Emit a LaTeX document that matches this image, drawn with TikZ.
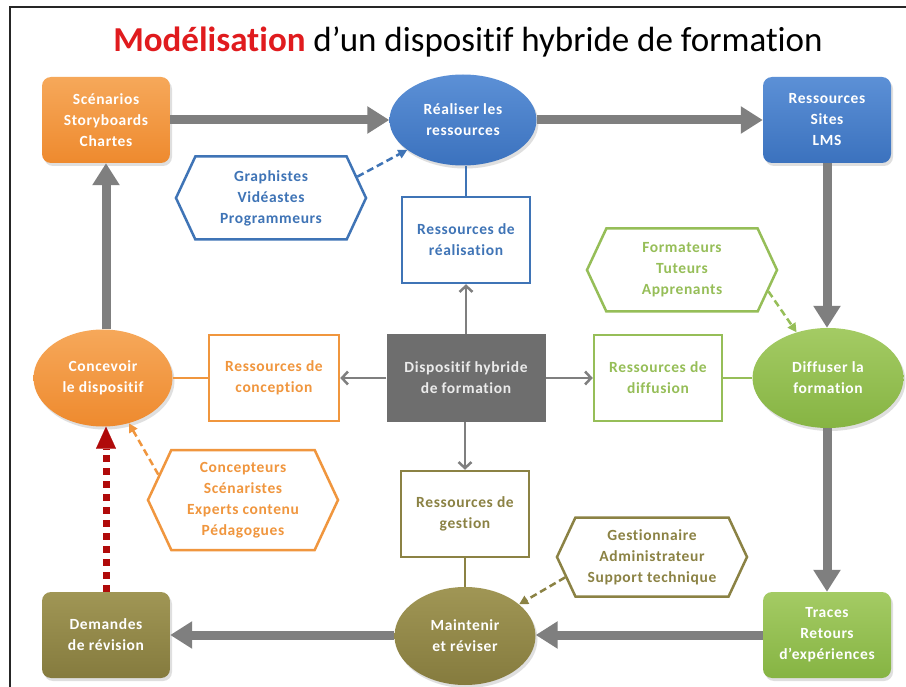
\documentclass[tikz,border=0pt]{standalone}
\usepackage{fontspec}
\setmainfont{Carlito}[Ligatures=NoCommon]
\usetikzlibrary{arrows.meta,shapes.geometric,shapes.symbols,calc,shadows}
\definecolor{orgF}{HTML}{EE8A2E}
\definecolor{orgL}{HTML}{F6A85A}
\definecolor{orgT}{HTML}{F0963E}
\definecolor{bluF}{HTML}{3B72BE}
\definecolor{bluL}{HTML}{5C90D6}
\definecolor{bluT}{HTML}{3F74B6}
\definecolor{grnF}{HTML}{86B443}
\definecolor{grnL}{HTML}{A4CB64}
\definecolor{grnT}{HTML}{96BE58}
\definecolor{olvF}{HTML}{857B3E}
\definecolor{olvL}{HTML}{A09655}
\definecolor{olvT}{HTML}{8B8244}
\definecolor{arrG}{HTML}{7F7F7F}
\definecolor{dispG}{HTML}{6E6E6E}
\definecolor{dotR}{HTML}{B00A0A}
\definecolor{titR}{HTML}{E01B1E}
\begin{document}
\begin{tikzpicture}[x=1pt,y=-1pt,
  lbl/.style={align=center, font=\bfseries\fontsize{15.5}{21}\selectfont\addfontfeatures{LetterSpace=4}},
  shd/.style={drop shadow={opacity=0.25, shadow xshift=2pt, shadow yshift=-3pt}},
  fbox/.style={lbl, rounded corners=9pt, minimum width=128pt, minimum height=86pt, text=white, shd},
  obox/.style={lbl, draw, line width=2.5pt, fill=white, minimum width=128pt, minimum height=86pt},
  ell/.style={lbl, ellipse, inner sep=0pt, text=white, shd},
  hexa/.style={lbl, signal, signal to=east and west, signal pointer angle=130, draw, line width=2.5pt, fill=white, inner sep=0pt, minimum width=190pt, minimum height=83pt},
  bigarr/.style={arrG, line width=9pt, -{Triangle[length=22pt,width=26pt]}},
  thinarr/.style={arrG, line width=2.5pt, -{Straight Barb[length=6pt,width=13pt,line width=2.5pt]}},
  link/.style={line width=2.5pt},
  dsh/.style={line width=2.5pt, dash pattern=on 7pt off 4pt, -{Triangle[length=9pt,width=9pt]}}
]
\useasboundingbox (0,0) rectangle (906,687);
\fill[white] (0,0) rectangle (906,687);
\draw[line width=1.5pt, black!85] (10,687) -- (10,7) -- (906,7);

\node (title) at (468,42) {\fontsize{35}{40}\selectfont\textcolor{titR}{\bfseries Modélisation} d’un dispositif hybride de formation};

% filled boxes
\node[fbox, top color=orgL, bottom color=orgF] (scen) at (106,120) {Scénarios\\Storyboards\\Chartes};
\node[fbox, top color=bluL, bottom color=bluF] (res) at (827,120) {Ressources\\Sites\\LMS};
\node[fbox, top color=olvL, bottom color=olvF] (dem) at (106,635) {Demandes\\de révision};
\node[fbox, top color=grnL, bottom color=grnF] (tra) at (827,635) {Traces\\Retours\\d’expériences};

% ellipses
\node[ell, top color=bluL, bottom color=bluF, minimum width=147pt, minimum height=91pt] (rea) at (463,120) {Réaliser les\\ressources};
\node[ell, top color=orgL, bottom color=orgF, minimum width=139pt, minimum height=97pt] (con) at (103,378) {Concevoir\\le dispositif};
\node[ell, top color=grnL, bottom color=grnF, minimum width=151pt, minimum height=100pt] (dif) at (828,378) {Diffuser la\\formation};
\node[ell, top color=olvL, bottom color=olvF, minimum width=141pt, minimum height=98pt] (mai) at (465,636) {Maintenir\\et réviser};

% central
\node[lbl, fill=dispG, text=white!92!black, minimum width=159pt, minimum height=87pt] (disp) at (466,378) {Dispositif hybride\\de formation};

% outline boxes
\node[obox, draw=bluT, text=bluT] (rr) at (466,240) {Ressources de\\réalisation};
\node[obox, draw=orgT, text=orgT, minimum width=130pt] (rc) at (274,378) {Ressources de\\conception};
\node[obox, draw=grnT, text=grnT] (rd) at (658,378) {Ressources de\\diffusion};
\node[obox, draw=olvT, text=olvT] (rg) at (465,514) {Ressources de\\gestion};

% hexagons
\node[hexa, draw=bluT, text=bluT] (gra) at (271,198) {Graphistes\\Vidéastes\\Programmeurs};
\node[hexa, draw=grnT, text=grnT] (for) at (682,270) {Formateurs\\Tuteurs\\Apprenants};
\node[hexa, draw=orgT, text=orgT, minimum height=100pt] (cpt) at (243,500) {Concepteurs\\Scénaristes\\Experts contenu\\Pédagogues};
\node[hexa, draw=olvT, text=olvT, minimum height=79pt] (ges) at (652,557) {Gestionnaire\\Administrateur\\Support technique};

% thick cycle
\draw[bigarr] (scen.east) -- (rea.west);
\draw[bigarr] (rea.east) -- (res.west);
\draw[bigarr] (res.south) -- (dif.north -| res.south);
\draw[bigarr] (dif.south -| tra.north) -- (tra.north);
\draw[bigarr] (tra.west) -- (mai.east |- tra.west);
\draw[bigarr] (mai.west |- dem.east) -- (dem.east);
\draw[bigarr] (con.north -| scen.south) -- (scen.south);
\draw[dotR, line width=7pt, dash pattern=on 7pt off 6pt] (dem.north) -- ($(dem.north |- con.south)+(0,22)$);
\draw[dotR, line width=0.1pt, -{Triangle[length=22pt,width=20pt]}] ($(dem.north |- con.south)+(0,22.5)$) -- (dem.north |- con.south);

% thin arrows from central box
\draw[thinarr] (disp.north) -- (rr.south);
\draw[thinarr] (disp.west) -- (rc.east);
\draw[thinarr] (disp.east) -- (rd.west);
\draw[thinarr] (disp.south -| rg.north) -- (rg.north);

% links to ellipses
\draw[link, bluT] (rr.north) -- (rea.south -| rr.north);
\draw[link, orgT] (rc.west) -- (con.east);
\draw[link, grnT] (rd.east) -- (dif.west);
\draw[link, olvT] (rg.south) -- (mai.north);

% dashed arrows
\draw[dsh, bluT] ($(gra.east)!0.5!(gra.north east)$) -- (rea);
\draw[dsh, grnT] ($(for.east)!0.5!(for.south east)$) -- (dif);
\draw[dsh, orgT] ($(cpt.west)!0.5!(cpt.north west)$) -- (con);
\draw[dsh, olvT] ($(ges.west)!0.5!(ges.south west)$) -- (mai);
\end{tikzpicture}
\end{document}
